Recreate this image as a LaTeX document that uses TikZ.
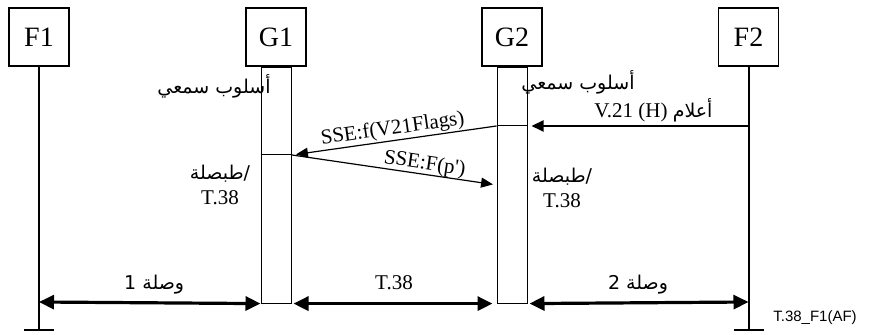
\documentclass[tikz,border=0pt]{standalone}
\usepackage{fontspec}
\setmainfont{Liberation Serif}
\setsansfont{Liberation Sans}
\newfontfamily\arabicfont[Script=Arabic]{DejaVu Sans}
\TeXXeTstate=1
\usetikzlibrary{arrows.meta,positioning}

\begin{document}
\begin{tikzpicture}[
    x=0.5pt, y=-0.5pt,
    entity/.style={rectangle, draw=black, line width=0.6pt, minimum width=30pt, minimum height=29pt, font=\fontsize{14}{16}\selectfont},
    bar/.style={rectangle, draw=black, line width=0.5pt, minimum width=15pt, minimum height=118pt},
    life/.style={line width=1pt},
    lbl/.style={font=\fontsize{10.5}{12.5}\selectfont, align=center},
    arlbl/.style={font=\arabicfont\fontsize{9.5}{12}\selectfont, align=center},
    msg/.style={line width=0.6pt, -{Triangle[length=6pt,width=5pt]}},
    sig/.style={line width=1pt, -{Triangle[length=6pt,width=5.5pt]}},
    link/.style={line width=1.6pt, {Triangle[length=7.5pt,width=7pt]}-{Triangle[length=7.5pt,width=7pt]}}
]
\useasboundingbox (0,0) rectangle (869,335);

% Entities
\node[entity] (f1) at (39,37) {F1};
\node[entity] (g1) at (276,37) {G1};
\node[entity] (g2) at (512,37) {G2};
\node[entity] (f2) at (748.5,37) {F2};

% Gateway bars
\node[bar, below=0pt of g1] (g1bar) {};
\node[bar, below=0pt of g2] (g2bar) {};

% Lifelines
\coordinate (f1end) at (39,330);
\coordinate (f2end) at (748.5,330);
\draw[life] (f1) -- (f1end);
\draw[life] (f2) -- (f2end);
\draw[life] ([xshift=-7.5pt]f1end) -- ([xshift=7.5pt]f1end);
\draw[life] ([xshift=-7.5pt]f2end) -- ([xshift=7.5pt]f2end);

% Audio mode
\node[arlbl] (g1mode) at (214,86) {\beginR أسلوب سمعي\endR};
\node[arlbl] (g2mode) at (578,82) {\beginR أسلوب سمعي\endR};

% Messages
\coordinate (f2sig) at (748.5,126);
\coordinate (g1mark) at (292,155);
\coordinate (g2hit) at (497,185);
\draw[line width=0.5pt] (g2bar.west |- f2sig) -- (g2bar.east |- f2sig);
\draw[line width=0.5pt] (g1bar.west |- g1mark) -- (g1bar.east |- g1mark);
\draw[sig, shorten >=2pt] (f2sig) -- node[lbl, above, pos=0.43, inner sep=1.5pt] {V.21 (H) {\arabicfont\fontsize{9.5}{12}\selectfont\beginR أعلام\endR}} (g2bar.east |- f2sig);
\draw[msg, shorten >=2pt] (g2bar.west |- f2sig) -- node[lbl, above, sloped, inner sep=0.5pt] {SSE:f(V21Flags)} (g1mark);
\draw[msg, shorten >=2pt] (g1mark) -- node[lbl, above, sloped, pos=0.64, inner sep=0pt] {SSE:F(p\textquotesingle)} (g2hit);

% T.38 layer
\node[lbl] (g1layer) at (220,185) {{\arabicfont\fontsize{9.5}{12}\selectfont /طبصلة}\\T.38};
\node[lbl] (g2layer) at (562,188) {{\arabicfont\fontsize{9.5}{12}\selectfont /طبصلة}\\T.38};

% Links
\coordinate (f1low) at (39,302);
\coordinate (f2low) at (748.5,302);
\draw[link] (f1low) -- node[arlbl, above, pos=0.52] {\beginR وصلة 1\endR} (g1bar.south west);
\draw[link, shorten <=1pt, shorten >=2pt] (g1bar.south east) -- node[lbl, above=3pt] {T.38} (g2bar.south west);
\draw[link, shorten <=1pt] (g2bar.south east) -- node[arlbl, above] {\beginR وصلة 2\endR} (f2low);

% Figure id
\node[font=\sffamily\fontsize{7.5}{9}\selectfont] (figid) at (815,318) {T.38\_F1(AF)};
\end{tikzpicture}
\end{document}
